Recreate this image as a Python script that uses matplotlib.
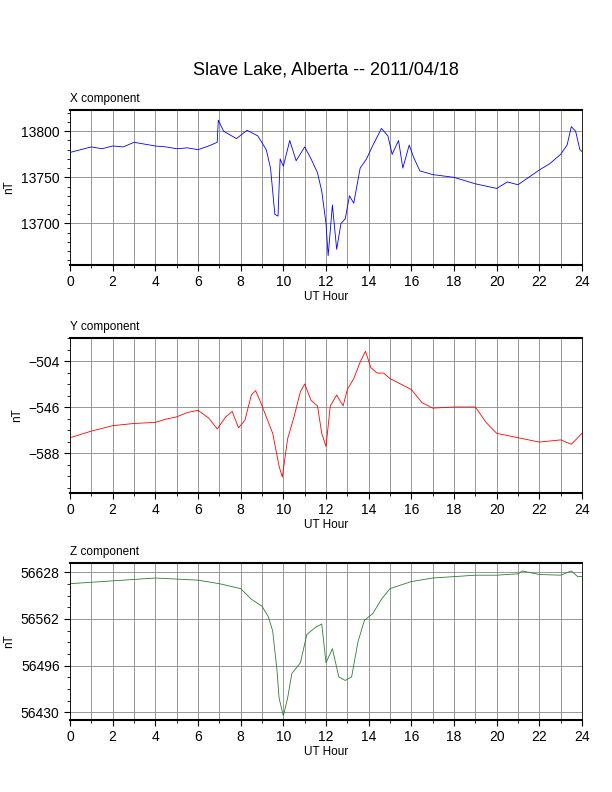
import matplotlib
matplotlib.use("Agg")
import matplotlib.pyplot as plt
from matplotlib.ticker import MultipleLocator

plt.rcParams['font.family'] = ['Liberation Sans', 'DejaVu Sans']

tx = [0,0.5,1,1.5,2,2.5,3,3.5,4,4.5,5,5.5,6,6.5,6.9,6.95,7.2,7.8,8.3,8.8,9.2,9.4,9.6,9.75,9.85,10,10.3,10.6,11,11.3,11.6,11.8,12.0,12.1,12.3,12.5,12.7,12.9,13.1,13.3,13.6,13.9,14.2,14.6,14.9,15.1,15.4,15.6,15.9,16.1,16.4,17,18,19,20,20.5,21,21.5,22,22.5,23,23.3,23.5,23.7,23.9,24]
x_vals = [13777,13780,13783,13781,13784,13783,13788,13786,13784,13783,13781,13782,13780,13784,13788,13812,13800,13792,13801,13795,13780,13760,13710,13708,13770,13762,13790,13768,13783,13770,13755,13735,13700,13665,13720,13672,13700,13705,13730,13722,13760,13770,13785,13803,13795,13775,13790,13760,13785,13772,13757,13753,13750,13743,13738,13745,13742,13750,13758,13765,13775,13785,13805,13800,13780,13778]

ty = [0,1,2,3,4,4.5,5,5.5,6,6.5,6.9,7.3,7.6,7.9,8.2,8.5,8.7,8.9,9.2,9.5,9.8,9.95,10.2,10.5,10.8,11.0,11.3,11.6,11.8,12.0,12.2,12.5,12.8,13.0,13.3,13.6,13.85,14.1,14.4,14.7,15,15.5,16,16.5,17,18,19,19.5,20,21,22,23,23.5,24]
y_vals = [-574,-568,-563,-561,-560,-557,-555,-551,-549,-556,-566,-555,-550,-565,-558,-535,-531,-540,-555,-570,-600,-610,-575,-555,-532,-525,-540,-545,-570,-582,-545,-535,-545,-530,-520,-505,-495,-510,-515,-515,-520,-525,-530,-542,-547,-546,-546,-560,-570,-574,-578,-576,-580,-570]

tz = [0,2,4,6,7,8,8.5,9,9.3,9.5,9.7,9.8,10,10.2,10.4,10.8,11.1,11.5,11.8,12.0,12.3,12.6,12.9,13.2,13.5,13.8,14.2,14.6,15,16,17,18,19,20,21,21.2,22,23,23.5,23.8,24]
z_vals = [56612,56616,56620,56617,56612,56605,56590,56580,56565,56545,56490,56450,56425,56450,56485,56500,56540,56550,56555,56500,56520,56480,56475,56480,56530,56560,56570,56590,56605,56615,56620,56622,56624,56624,56626,56630,56625,56624,56630,56622,56622]

panels = [
    ("X component", tx, x_vals, 'blue', (13655, 13823), [13700, 13750, 13800], 10, 0.6654, 0.1957),
    ("Y component", ty, y_vals, 'red', (-624.5, -483), [-588, -546, -504], 10.5, 0.3775, 0.1957),
    ("Z component", tz, z_vals, '#2e7d32', (56419, 56641), [56430, 56496, 56562, 56628], 16.5, 0.0909, 0.198),
]

fig = plt.figure(figsize=(6.12, 7.92), dpi=100)
fig.text(0.533, 0.912, "Slave Lake, Alberta -- 2011/04/18", ha='center', va='center', fontsize=13)
for name, t, v, c, ylim, yt, minor, b, h in panels:
    ax = fig.add_axes([0.1144, b, 0.8366, h])
    ax.plot(t, v, color=c, lw=0.6)
    ax.set_xlim(0, 24)
    ax.set_ylim(*ylim)
    ax.set_xticks(range(0, 25, 2))
    ax.xaxis.set_minor_locator(MultipleLocator(1))
    ax.set_yticks(yt)
    ax.yaxis.set_minor_locator(MultipleLocator(minor))
    ax.grid(True, which='major', axis='y', color='#888888', lw=0.6)
    ax.grid(True, which='both', axis='x', color='#888888', lw=0.6)
    ax.tick_params(labelsize=10, direction='out', length=4)
    ax.tick_params(which='minor', length=2)
    for s in ['top', 'bottom']:
        ax.spines[s].set_linewidth(1.5)
    for s in ['left', 'right']:
        ax.spines[s].set_linewidth(0.6)
    ax.set_xlabel("UT Hour", fontsize=8.5, labelpad=1)
    ax.set_ylabel("nT", fontsize=8.5)
    ax.text(0, 1.03, name, transform=ax.transAxes, fontsize=8.5, ha='left', va='bottom')
fig.savefig("out.png", dpi=100)
